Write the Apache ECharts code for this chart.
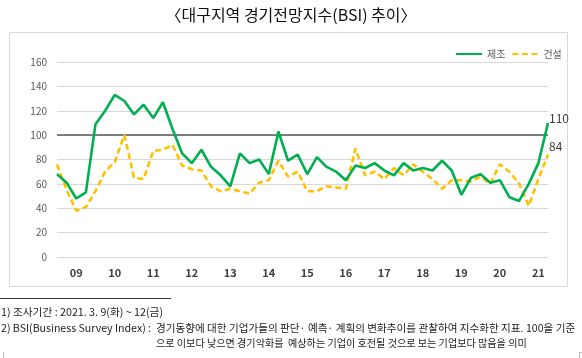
<!DOCTYPE html>
<html>
<head>
<meta charset="utf-8">
<script src="https://cdn.jsdelivr.net/npm/echarts@6/dist/echarts.min.js"></script>
<style>
html,body{margin:0;padding:0;background:#fff;}
#chart{width:582px;height:358px;}
</style>
</head>
<body>
<div id="chart"></div>
<script>
// Quarterly categories (2008 Q3 – 2021 Q2)
const categories = [
  '08.3Q','08.4Q',
  '09.1Q','09.2Q','09.3Q','09.4Q',
  '10.1Q','10.2Q','10.3Q','10.4Q',
  '11.1Q','11.2Q','11.3Q','11.4Q',
  '12.1Q','12.2Q','12.3Q','12.4Q',
  '13.1Q','13.2Q','13.3Q','13.4Q',
  '14.1Q','14.2Q','14.3Q','14.4Q',
  '15.1Q','15.2Q','15.3Q','15.4Q',
  '16.1Q','16.2Q','16.3Q','16.4Q',
  '17.1Q','17.2Q','17.3Q','17.4Q',
  '18.1Q','18.2Q','18.3Q','18.4Q',
  '19.1Q','19.2Q','19.3Q','19.4Q',
  '20.1Q','20.2Q','20.3Q','20.4Q',
  '21.1Q','21.2Q'
];
// Year tick labels shown at each year's first quarter
const yearLabels = ['09','10','11','12','13','14','15','16','17','18','19','20','21'];

// 제조 (manufacturing)
const manufacturing = [
  68, 61,
  48, 53, 109, 120,
  133, 128, 117, 125,
  114, 127, 105, 85,
  77, 88, 74, 67,
  58, 85, 77, 80,
  68, 103, 79, 84,
  68, 82, 74, 70,
  63, 75, 73, 77,
  71, 67, 77, 71,
  73, 71, 79, 71,
  51, 65, 68, 61,
  63, 49, 46, 60,
  77, 110
];
// 건설 (construction)
const construction = [
  76, 55,
  38, 41, 54, 70,
  78, 100, 65, 64,
  87, 88, 92, 75,
  72, 71, 58, 54,
  56, 54, 52, 61,
  63, 79, 66, 70,
  54, 54, 58, 57,
  56, 89, 67, 70,
  64, 73, 67, 76,
  70, 64, 56, 63,
  63, 62, 66, 60,
  76, 70, 60, 42,
  64, 84
];
const seriesNames = ['제조', '건설'];
const referenceLevel = 100;

const titleText = '〈대구지역 경기전망지수(BSI) 추이〉';
const note1 = '1) 조사기간 : 2021. 3. 9(화) ~ 12(금)';
const note2a = '2) BSI(Business Survey Index) :';
const note2b = '경기동향에 대한 기업가들의 판단· 예측· 계획의 변화추이를 관찰하여 지수화한 지표. 100을 기준';
const note3 = '으로 이보다 낮으면 경기악화를  예상하는 기업이 호전될 것으로 보는 기업보다 많음을 의미';

const FONT = '"Noto Sans CJK KR", "Noto Sans", sans-serif';

function endLabel(offsetY) {
  return {
    show: true, distance: 1, offset: [0, offsetY],
    formatter: (p) => String(p.value),
    color: '#404040', fontSize: 12, fontFamily: FONT
  };
}

const chart = echarts.init(document.getElementById('chart'), null, {renderer: 'canvas'});
chart.setOption({
  animation: false,
  backgroundColor: '#ffffff',
  textStyle: {fontFamily: FONT},
  grid: {left: 57, right: 34, top: 62, bottom: 101, containLabel: false},
  legend: {
    left: 450, top: 44,
    itemWidth: 26, itemHeight: 10, itemGap: 6,
    itemStyle: {opacity: 0},
    textStyle: {color: '#595959', fontSize: 10, fontFamily: FONT},
    data: seriesNames
  },
  xAxis: {
    type: 'category',
    data: categories,
    boundaryGap: false,
    axisLine: {show: false},
    axisTick: {show: false},
    splitLine: {show: false},
    axisLabel: {
      interval: (idx) => idx % 4 === 2,
      formatter: (val) => {
        const y = val.slice(0, 2);
        return yearLabels.indexOf(y) >= 0 ? y : '';
      },
      color: '#404040', fontSize: 11, fontWeight: 'bold', margin: 10, fontFamily: FONT
    }
  },
  yAxis: {
    type: 'value',
    min: 0, max: 160, interval: 20,
    axisLine: {show: false},
    axisTick: {show: false},
    axisLabel: {color: '#595959', fontSize: 10, margin: 10, fontFamily: FONT},
    splitLine: {lineStyle: {color: '#d9d9d9', width: 1}}
  },
  series: [
    {
      name: seriesNames[0],
      type: 'line',
      data: manufacturing,
      symbol: 'none',
      z: 4,
      lineStyle: {color: '#00b050', width: 2.6},
      itemStyle: {color: '#00b050'},
      endLabel: endLabel(-5),
      markLine: {
        silent: true,
        symbol: 'none',
        label: {show: false},
        lineStyle: {color: '#595959', width: 1.5, type: 'solid'},
        data: [{yAxis: referenceLevel}],
        z: 2
      }
    },
    {
      name: seriesNames[1],
      type: 'line',
      data: construction,
      symbol: 'none',
      z: 3,
      lineStyle: {color: '#ffc000', width: 2.6, type: [6, 3.5]},
      itemStyle: {color: '#ffc000'},
      endLabel: endLabel(-8)
    }
  ],
  graphic: [
    {type: 'rect', shape: {x: 9.5, y: 32.5, width: 558, height: 254}, style: {fill: 'none', stroke: '#d9d9d9', lineWidth: 1}, silent: true},
    {type: 'text', left: 'center', top: 7, style: {text: titleText, fill: '#111', fontSize: 16, fontFamily: FONT}},
    {type: 'line', shape: {x1: 0, y1: 298.5, x2: 171, y2: 298.5}, style: {stroke: '#333', lineWidth: 1}},
    {type: 'text', x: 1, y: 312, style: {text: note1, fill: '#222', fontSize: 10.7, fontFamily: FONT, verticalAlign: 'middle'}},
    {type: 'text', x: 1, y: 328, style: {text: note2a, fill: '#222', fontSize: 10.6, fontFamily: FONT, verticalAlign: 'middle'}},
    {type: 'text', x: 156, y: 328, style: {text: note2b, fill: '#222', fontSize: 10.6, fontFamily: FONT, verticalAlign: 'middle'}},
    {type: 'text', x: 156, y: 343, style: {text: note3, fill: '#222', fontSize: 10.1, fontFamily: FONT, verticalAlign: 'middle'}},
    {type: 'line', shape: {x1: 3.5, y1: 352, x2: 3.5, y2: 358}, style: {stroke: '#bbb', lineWidth: 1}},
    {type: 'polyline', shape: {points: [[582, 352.5], [579.5, 352.5], [579.5, 358]]}, style: {stroke: '#bbb', lineWidth: 1, fill: 'none'}}
  ]
});
</script>
</body>
</html>
